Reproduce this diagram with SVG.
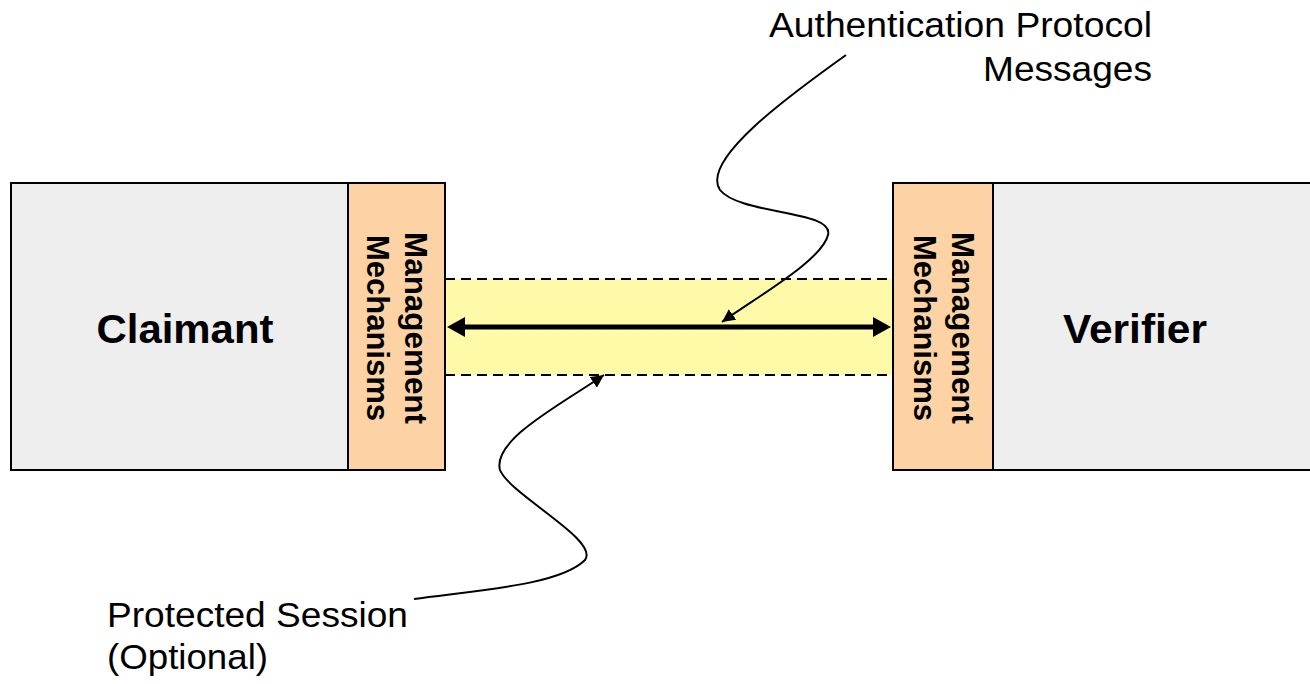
<svg xmlns="http://www.w3.org/2000/svg" width="1310" height="684" viewBox="0 0 1310 684">
  <style>
    .party { fill: #eeeeee; stroke: #000; stroke-width: 2; }
    .mgmt { fill: #fdd3a5; stroke: #000; stroke-width: 2; }
    .name { font-family: "Liberation Sans", Arial, sans-serif; font-weight: bold; font-size: 40px; fill: #000; text-anchor: middle; }
    .mgmt-label { font-family: "Liberation Sans", Arial, sans-serif; font-weight: bold; font-size: 31px; fill: #000; text-anchor: middle; }
    .note { font-family: "Liberation Sans", Arial, sans-serif; font-size: 35px; fill: #000; }
    .dash { stroke: #000; stroke-width: 2; stroke-dasharray: 10 6; fill: none; }
    .pointer { stroke: #000; stroke-width: 2; fill: none; }
  </style>
  <defs>
    <!-- heavy head for the message arrow, sized in user units -->
    <marker id="bigHead" viewBox="0 0 18 20" refX="6" refY="10" markerWidth="18" markerHeight="20" orient="auto-start-reverse" markerUnits="userSpaceOnUse">
      <path d="M0 0 L18 10 L0 20 z" fill="#000"/>
    </marker>
    <marker id="smallHead" viewBox="0 0 10 10" refX="10" refY="5" markerWidth="6.5" markerHeight="6.5" orient="auto" markerUnits="strokeWidth">
      <path d="M0 0 L10 5 L0 10 z" fill="#000"/>
    </marker>
  </defs>

  <!-- protected session band -->
  <g id="session">
    <rect x="445" y="279" width="448" height="96" fill="#fffaa8"/>
    <line class="dash" x1="445" y1="279" x2="893" y2="279"/>
    <line class="dash" x1="445" y1="375" x2="893" y2="375"/>
  </g>

  <g id="claimant">
    <rect class="party" x="11" y="183" width="337" height="287"/>
    <text class="name" x="185" y="343" textLength="177" lengthAdjust="spacingAndGlyphs">Claimant</text>
  </g>

  <g id="claimant-mgmt">
    <rect class="mgmt" x="348" y="183" width="97" height="287"/>
    <g transform="translate(396 328) rotate(90)">
      <text class="mgmt-label" x="0" y="-9" textLength="192" lengthAdjust="spacingAndGlyphs">Management</text>
      <text class="mgmt-label" x="0" y="29" textLength="186" lengthAdjust="spacingAndGlyphs">Mechanisms</text>
    </g>
  </g>

  <g id="verifier-mgmt">
    <rect class="mgmt" x="893" y="183" width="100" height="287"/>
    <g transform="translate(943 328) rotate(90)">
      <text class="mgmt-label" x="0" y="-9" textLength="192" lengthAdjust="spacingAndGlyphs">Management</text>
      <text class="mgmt-label" x="0" y="29" textLength="186" lengthAdjust="spacingAndGlyphs">Mechanisms</text>
    </g>
  </g>

  <g id="verifier">
    <rect class="party" x="993" y="183" width="330" height="287"/>
    <text class="name" x="1135" y="343" textLength="144" lengthAdjust="spacingAndGlyphs">Verifier</text>
  </g>

  <g id="auth-label">
    <text class="note" x="1152" y="37" text-anchor="end" textLength="383" lengthAdjust="spacingAndGlyphs">Authentication Protocol</text>
    <text class="note" x="1152" y="81" text-anchor="end" textLength="169" lengthAdjust="spacingAndGlyphs">Messages</text>
  </g>

  <g id="session-label">
    <text class="note" x="107" y="627" textLength="301" lengthAdjust="spacingAndGlyphs">Protected Session</text>
    <text class="note" x="107" y="669" textLength="161" lengthAdjust="spacingAndGlyphs">(Optional)</text>
  </g>

  <g id="connectors">
    <line x1="459" y1="327" x2="879" y2="327" stroke="#000" stroke-width="5" marker-start="url(#bigHead)" marker-end="url(#bigHead)"/>
    <path class="pointer" d="M846 55 C790 95 700 160 720 190 C740 215 835 210 828 235 C822 260 760 295 722 322" marker-end="url(#smallHead)"/>
    <path class="pointer" d="M414 599 C480 590 560 585 585 560 C600 540 510 495 500 470 C492 440 560 405 604 375" marker-end="url(#smallHead)"/>
  </g>
</svg>
